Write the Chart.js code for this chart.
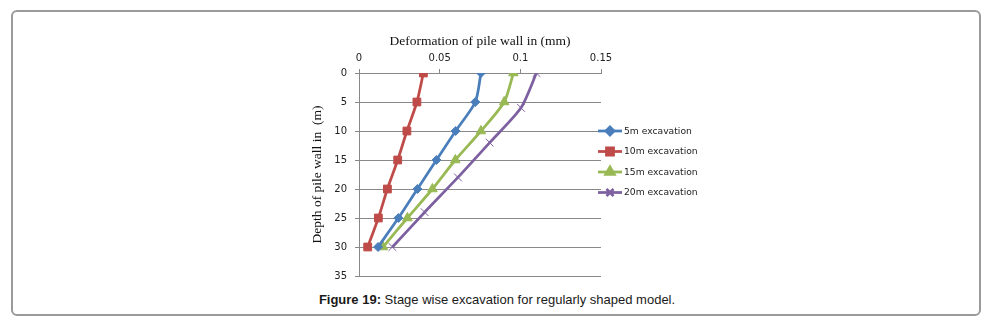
<!DOCTYPE html>
<html>
<head>
<meta charset="utf-8">
<script src="https://cdn.jsdelivr.net/npm/chart.js@4"></script>
<style>
  html, body { margin: 0; padding: 0; background: #fff; }
  body { width: 994px; height: 328px; position: relative; overflow: hidden; }
  #frame { position: absolute; left: 11px; top: 10px; width: 966px; height: 302px;
           border: 2px solid #9a9a9a; border-radius: 6px; }
  #wrap { position: absolute; left: 0; top: 0; width: 994px; height: 290px; }
  #caption { position: absolute; left: 0; top: 291px; width: 994px; text-align: center;
             font: 13px "Liberation Sans", Arial, sans-serif; color: #1a1a1a; line-height: 18px; }
</style>
</head>
<body>
<div id="frame"></div>
<div id="wrap"><canvas id="c"></canvas></div>
<div id="caption"><b>Figure 19:</b> Stage wise excavation for regularly shaped model.</div>
<script>
const depths = [0, 5, 10, 15, 20, 25, 30];
const depths20 = [0, 6, 12, 18, 24, 30];
const def5 = [0.0756, 0.0721, 0.0599, 0.0480, 0.0362, 0.0244, 0.0118];
const def10 = [0.0399, 0.0359, 0.0297, 0.0240, 0.0176, 0.0120, 0.0054];
const def15 = [0.0957, 0.0900, 0.0756, 0.0597, 0.0455, 0.0300, 0.0149];
const def20 = [0.1100, 0.1004, 0.0810, 0.0613, 0.0407, 0.0207];
const seriesNames = ['5m excavation', '10m excavation', '15m excavation', '20m excavation'];
const xTicks = [0, 0.05, 0.1, 0.15];
const yTicks = [0, 5, 10, 15, 20, 25, 30, 35];

function pts(xs, ys) { return xs.map((v, i) => ({ x: v, y: ys[i] })); }

const styles = [
  { color: '#4A7EBB', pointStyle: 'rectRot', radius: 4.5, pbw: 1 },
  { color: '#BE4B48', pointStyle: 'rect', radius: 5.5, pbw: 1 },
  { color: '#98B954', pointStyle: 'triangle', radius: 5.5, pbw: 1 },
  { color: '#7D60A0', pointStyle: 'crossRot', radius: 5.5, pbw: 1 }
];
const dataSets = [pts(def5, depths), pts(def10, depths), pts(def15, depths), pts(def20, depths20)];

const datasets = dataSets.map((d, i) => ({
  label: seriesNames[i],
  data: d,
  showLine: true,
  borderColor: styles[i].color,
  backgroundColor: styles[i].color,
  borderWidth: 2.75,
  tension: 0.25,
  pointStyle: styles[i].pointStyle,
  pointRadius: styles[i].radius,
  pointBorderWidth: styles[i].pbw,
  pointBorderColor: styles[i].color,
  pointBackgroundColor: styles[i].color
}));

const customLegend = {
  id: 'customLegend',
  afterDraw(chart) {
    const ctx = chart.ctx;
    const x0 = 598, x1 = 622, tx = 624;
    const ys = [131, 151.5, 172, 192.5];
    ctx.save();
    chart.data.datasets.forEach((ds, i) => {
      const y = ys[i];
      ctx.strokeStyle = ds.borderColor;
      ctx.lineWidth = 2.75;
      ctx.beginPath(); ctx.moveTo(x0, y); ctx.lineTo(x1, y); ctx.stroke();
      Chart.helpers.drawPoint(ctx, {
        pointStyle: ds.pointStyle, radius: ds.pointRadius * 0.9, rotation: 0,
        borderWidth: ds.pointBorderWidth
      }, (x0 + x1) / 2, y);
      ctx.fillStyle = ds.borderColor;
      ctx.strokeStyle = ds.borderColor;
      ctx.lineWidth = ds.pointBorderWidth;
      ctx.beginPath();
      Chart.helpers.drawPoint(ctx, {
        pointStyle: ds.pointStyle, radius: ds.pointRadius * 0.9, rotation: 0,
        borderWidth: ds.pointBorderWidth
      }, (x0 + x1) / 2, y);
      ctx.fillStyle = '#222';
      ctx.font = '9.2px "DejaVu Sans", Verdana, sans-serif';
      ctx.textAlign = 'left';
      ctx.textBaseline = 'middle';
      ctx.fillText(ds.label, tx, y + 0.5);
    });
    ctx.restore();
  }
};

new Chart(document.getElementById('c'), {
  type: 'scatter',
  data: { datasets },
  plugins: [customLegend],
  options: {
    responsive: true,
    maintainAspectRatio: false,
    animation: false,
    layout: { padding: { left: 300, top: 20, right: 393, bottom: 13 } },
    plugins: { legend: { display: false }, tooltip: { enabled: false } },
    scales: {
      x: {
        type: 'linear',
        position: 'top',
        min: xTicks[0], max: xTicks[xTicks.length - 1],
        afterBuildTicks(s) { s.ticks = xTicks.map(v => ({ value: v })); },
        afterFit(s) { s.height = 53; },
        ticks: {
          padding: 5,
          color: '#222',
          font: { family: '"DejaVu Sans", Verdana, sans-serif', size: 10 },
          callback: v => String(Number(v.toFixed(2)))
        },
        grid: { drawOnChartArea: false, drawTicks: true, tickLength: 4, color: '#888' },
        border: { color: '#888', width: 1 },
        title: {
          display: true, text: 'Deformation of pile wall in (mm)', color: '#111',
          font: { family: '"Liberation Serif", "Times New Roman", serif', size: 13.5 },
          padding: { top: 13, bottom: 0 }
        }
      },
      y: {
        type: 'linear',
        reverse: true,
        min: yTicks[0], max: yTicks[yTicks.length - 1],
        afterBuildTicks(s) { s.ticks = yTicks.map(v => ({ value: v })); },
        afterFit(s) { s.width = 59; },
        ticks: {
          padding: 8,
          color: '#222',
          font: { family: '"DejaVu Sans", Verdana, sans-serif', size: 10 }
        },
        grid: { color: '#888', lineWidth: 1, tickLength: 4 },
        border: { color: '#888', width: 1 },
        title: {
          display: true, text: 'Depth of pile wall in  (m)', color: '#111',
          font: { family: '"Liberation Serif", "Times New Roman", serif', size: 13.5 },
          padding: { top: 9, bottom: 0 }
        }
      }
    }
  }
});
</script>
</body>
</html>
